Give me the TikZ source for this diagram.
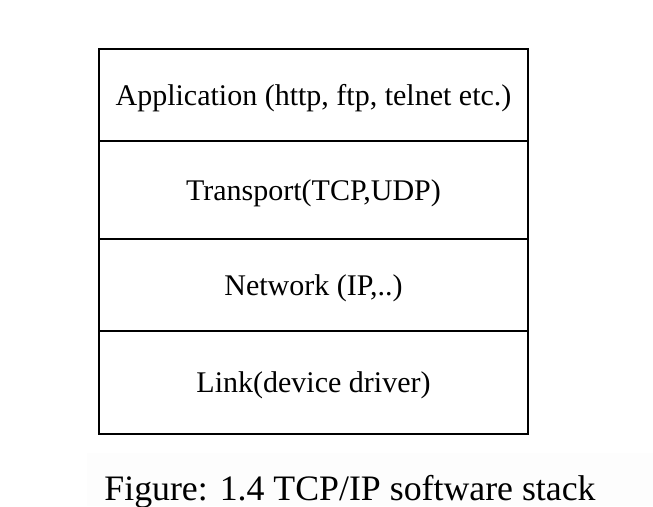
\documentclass[tikz,border=0pt]{standalone}
\usepackage{fontspec}
\setmainfont{Liberation Serif}
\usepackage{tikz}
\tikzset{layer node/.style={rectangle,draw,line width=1.6pt,minimum width=429pt,inner sep=0pt,text depth=0pt,font=\fontsize{30}{36}\selectfont},
            }

\begin{document}
\begin{tikzpicture}[x=1pt,y=-1pt]
				\useasboundingbox (0,0) rectangle (653,506);
				\fill[gray!1.5] (87,453) rectangle (653,506);
				\node[layer node,minimum height=92pt] (app) at (313.5,95) {Application (http, ftp, telnet etc.)};
				\node[layer node,minimum height=98pt] (trans) at (313.5,190) {Transport(TCP,UDP)};
				\node[layer node,minimum height=92pt] (net) at (313.5,285) {Network (IP,..)};
				\node[layer node,minimum height=103pt] (link) at (313.5,382.5) {Link(device driver)};
				
				\node[font=\fontsize{35.8}{42}\selectfont] (cap) at (350,492) {Figure: 1.4 TCP/IP software stack};
			\end{tikzpicture}
\end{document}
